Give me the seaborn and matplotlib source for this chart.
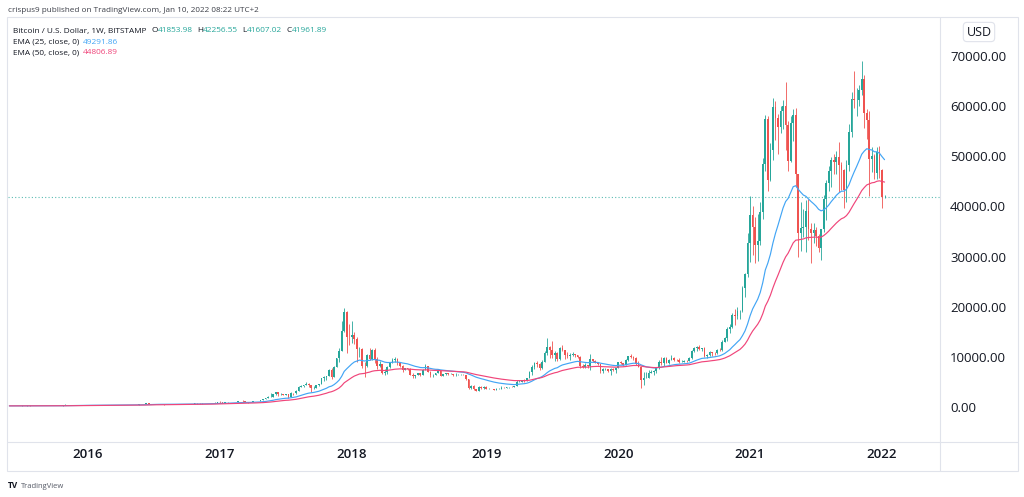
import numpy as np
import pandas as pd
import matplotlib
matplotlib.use("Agg")
import matplotlib.pyplot as plt
import matplotlib.dates as mdates
from matplotlib.lines import Line2D
from matplotlib.patches import Rectangle
import seaborn as sns

# ---------------- data (weekly BTC/USD, Bitstamp) ----------------
first_week = "2015-06-01"
first_open = 230.0

close_2015 = [223, 233, 244, 251, 270, 292, 274, 289, 281, 261, 265, 228, 229, 240, 230, 232, 234, 239, 246, 270,
              285, 325, 382, 331, 325, 357, 390, 435, 443, 422, 430]
high_2015 = [232, 237, 255, 253, 275, 315, 294, 310, 300, 285, 272, 268, 235, 245, 245, 234, 238, 240, 250, 272,
             295, 335, 500, 390, 340, 375, 400, 465, 465, 460, 440]
low_2015 = [220, 222, 230, 240, 250, 255, 270, 272, 275, 258, 256, 162, 198, 225, 227, 225, 226, 234, 236, 242,
            266, 280, 315, 300, 310, 320, 350, 385, 430, 410, 420]

close_2016 = [448, 385, 390, 378, 375, 400, 438, 432, 410, 415, 410, 417, 420, 420, 428, 460, 455, 458, 457, 443,
              525, 577, 665, 760, 670, 672, 650, 665, 656, 622, 590, 570, 580, 570, 610, 608, 607, 603, 612, 618,
              640, 655, 700, 705, 700, 740, 735, 765, 770, 790, 890, 1000]
high_2016 = [465, 455, 420, 395, 390, 405, 440, 440, 435, 420, 420, 420, 425, 425, 430, 465, 468, 465, 460, 460,
             535, 590, 690, 780, 770, 680, 680, 680, 680, 660, 630, 600, 590, 585, 615, 630, 612, 610, 615, 620,
             645, 660, 725, 740, 720, 750, 745, 775, 780, 800, 930, 1005]
low_2016 = [425, 365, 370, 365, 365, 370, 400, 400, 400, 405, 405, 410, 410, 415, 420, 425, 445, 440, 445, 435,
            440, 525, 570, 660, 550, 620, 610, 645, 645, 520, 480, 565, 565, 565, 570, 600, 600, 590, 595, 605,
            615, 625, 650, 680, 690, 680, 725, 730, 755, 765, 790, 880]

close_2017 = [905, 820, 920, 915, 1010, 995, 1050, 1170, 1270, 1230, 970, 965, 1080, 1190, 1180, 1250, 1350, 1550,
              1730, 2050, 2050, 2540, 2960, 2500, 2560, 2420, 2500, 1930, 2750, 2730, 3230, 4060, 4090, 4340, 4600,
              4310, 3690, 3780, 4370, 4600, 5700, 6000, 6130, 7360, 5950, 8000, 9700, 11250, 15200, 19000, 13900,
              13880]
high_2017 = [1150, 910, 930, 925, 1040, 1070, 1060, 1210, 1290, 1330, 1260, 1060, 1090, 1210, 1210, 1260, 1360, 1620,
             1800, 2100, 2760, 2560, 3000, 2980, 2770, 2600, 2650, 2550, 2900, 2800, 3300, 4180, 4480, 4400, 4970,
             4700, 4350, 4110, 4400, 4650, 5850, 6200, 6200, 7600, 7800, 8200, 9800, 11800, 17200, 19666, 19100,
             16500]
low_2017 = [800, 750, 815, 880, 910, 940, 990, 1050, 1170, 1000, 940, 890, 960, 1060, 1160, 1170, 1240, 1350,
            1550, 1720, 1950, 2050, 2480, 2100, 2470, 2300, 2400, 1840, 1920, 2450, 2650, 3200, 3950, 3930, 4300,
            4000, 2970, 3500, 3750, 4200, 4550, 5100, 5400, 6100, 5500, 5900, 7900, 9000, 11200, 15000, 10800,
            12300]

close_2018 = [14400, 13600, 11500, 11500, 8200, 8100, 10400, 9600, 11400, 9600, 8200, 8500, 6850, 6900, 8000, 8900,
              9400, 9650, 8700, 8200, 7350, 7700, 7500, 6400, 6100, 6380, 6750, 6350, 7400, 8200, 7000, 6300, 6400,
              6700, 7300, 6250, 6500, 6700, 6600, 6600, 6300, 6400, 6400, 6400, 6350, 5600, 3800, 4100, 3500, 3250,
              3950, 3850, 4040]
high_2018 = [17200, 15000, 14000, 12000, 11700, 9000, 10600, 11800, 11600, 11700, 9900, 9200, 8600, 7500, 8200, 9000,
             9800, 9990, 9700, 8900, 8400, 7800, 7800, 7700, 6800, 6450, 6800, 6800, 7600, 8500, 8250, 7100, 6600,
             6800, 7400, 7400, 6600, 6800, 6800, 6700, 6650, 6800, 6500, 6550, 6550, 6400, 5650, 4400, 4300, 3600,
             4200, 4200, 4100]
low_2018 = [12800, 12500, 9000, 10000, 7700, 6000, 8000, 9300, 9300, 8700, 7650, 8000, 6600, 6450, 6600, 7800,
            8700, 9050, 8300, 7900, 7050, 7350, 7400, 6300, 5800, 5800, 6300, 6150, 6300, 7350, 6900, 6000, 5900,
            6300, 6700, 6100, 6150, 6300, 6400, 6500, 6150, 6250, 6350, 6300, 6300, 5300, 3500, 3500, 3300, 3200,
            3200, 3600, 3600]

close_2019 = [3550, 3600, 3550, 3420, 3650, 3650, 3850, 3820, 3900, 4000, 3980, 4100, 5050, 5050, 5300, 5200, 5800,
              7000, 8000, 8700, 8550, 7800, 8950, 10700, 11900, 11450, 10300, 10800, 9500, 11800, 11300, 10300,
              10150, 10350, 10500, 10300, 10050, 8100, 7900, 8300, 8250, 9550, 9200, 8800, 8500, 7100, 7500, 7500,
              7100, 7500, 7400, 7760]
high_2019 = [4100, 3700, 3650, 3550, 3700, 3700, 4200, 3900, 3950, 4020, 4100, 4150, 5350, 5450, 5350, 5650, 5850,
             7100, 8400, 8950, 9100, 8800, 9350, 11200, 13800, 12100, 13200, 11100, 10900, 12000, 12300, 11450,
             10900, 10700, 10900, 10600, 10400, 10100, 8500, 8800, 8400, 10500, 9600, 9450, 8850, 8550, 7850, 7800,
             7650, 7700, 7700, 7800]
low_2019 = [3500, 3500, 3500, 3350, 3380, 3550, 3650, 3700, 3700, 3800, 3900, 3900, 4100, 4900, 4950, 5000, 5150,
            5700, 6450, 7500, 8000, 7450, 7500, 8950, 10400, 9700, 9800, 9100, 9200, 9400, 11100, 9500, 9800, 9350,
            10100, 9900, 9850, 7750, 7700, 7800, 7850, 7300, 8900, 8700, 8400, 6800, 6850, 7300, 7050, 6400, 7150,
            6850]

close_2020 = [8900, 8700, 8350, 9350, 10100, 9900, 9700, 8550, 8050, 5350, 5800, 5880, 6800, 6900, 7120, 7700, 8900,
              8750, 9680, 8720, 9450, 9750, 9450, 9300, 9000, 9070, 9250, 9180, 9700, 11100, 11680, 11900, 11650,
              11700, 10250, 10330, 10950, 10780, 10680, 11380, 11370, 13030, 13800, 15480, 15960, 18400, 18180,
              19150, 19150, 23800, 26480, 32800]
high_2020 = [9000, 9200, 8800, 9600, 10150, 10500, 10200, 9950, 9200, 8150, 6900, 6950, 7300, 7450, 7300, 7800, 9450,
             10000, 9900, 9900, 9600, 10400, 9950, 9600, 9800, 9300, 9450, 9300, 9950, 11400, 11900, 12100, 12450,
             11800, 12050, 10550, 11150, 11000, 10950, 11500, 11700, 13300, 14000, 15950, 16500, 18800, 19450,
             19900, 19400, 24200, 26800, 34800]
low_2020 = [7700, 8550, 8250, 8300, 9200, 9700, 9300, 8450, 8000, 3850, 4400, 5700, 5850, 6700, 6450, 6800, 7600,
            8400, 8150, 8700, 8600, 9300, 9200, 9150, 8850, 8950, 9050, 9050, 9150, 9650, 10900, 11200, 11300,
            11150, 9900, 9850, 10200, 10150, 10400, 10550, 11200, 11250, 12900, 13200, 14800, 15800, 16300, 17600,
            17600, 19000, 22000, 26000]

close_2021 = [38200, 35800, 32300, 33100, 38900, 48500, 57500, 45200, 51200, 59900, 57700, 55800, 59000, 60100,
              56200, 49100, 56600, 58200, 46400, 34700, 35700, 35800, 39000, 35500, 34700, 35300, 34200, 31800,
              35400, 41500, 44600, 47000, 49300, 48800, 49900, 48300, 47300, 43200, 48200, 54900, 61500, 61300,
              61300, 63300, 65500, 58600, 57300, 49400, 50100, 46700, 50800, 47200]
high_2021 = [42000, 40100, 37800, 38500, 40900, 49700, 58300, 58000, 52600, 61700, 61000, 58500, 60000, 61200,
             64900, 57000, 58000, 59500, 59600, 46500, 40900, 39400, 41300, 41400, 36700, 36600, 35900, 34600,
             35500, 42300, 45300, 48100, 49800, 50500, 51000, 52900, 48800, 47400, 49300, 56500, 62900, 67000,
             63700, 64200, 69000, 66300, 59500, 59100, 51900, 50500, 51900, 52100]
low_2021 = [29000, 30400, 28800, 29200, 32300, 37400, 47000, 43000, 45000, 49300, 53300, 50400, 54700, 55500,
            51300, 47000, 48800, 53000, 43800, 30000, 31200, 34000, 31000, 33300, 28800, 32700, 32100, 31000,
            29300, 35000, 37300, 43000, 43900, 46400, 46500, 42800, 43200, 39600, 40800, 47000, 53900, 59700,
            58000, 60000, 62300, 55600, 53500, 42000, 46800, 45500, 45500, 45700]

close_2022 = [41853.98, 41961.89]
high_2022 = [47500, 42256.55]
low_2022 = [39700, 41607.02]

price_ticks = [0, 10000, 20000, 30000, 40000, 50000, 60000, 70000]
year_labels = ["2016", "2017", "2018", "2019", "2020", "2021", "2022"]

header_text = "crispus9 published on TradingView.com, Jan 10, 2022 08:22 UTC+2"
symbol_text = "Bitcoin / U.S. Dollar, 1W, BITSTAMP"
ema25_label, ema25_value = "EMA (25, close, 0)", "49291.86"
ema50_label, ema50_value = "EMA (50, close, 0)", "44806.89"

# ---------------- styles ----------------
UP = "#26a69a"
DOWN = "#ef5350"
EMA25_C = "#42a5f5"
EMA50_C = "#f0457a"
TXT = "#131722"
FRAME = "#e0e3eb"
FONT = ["Open Sans", "DejaVu Sans"]

sns.set_theme(style="white")
plt.rcParams["font.family"] = FONT

close = np.array(close_2015 + close_2016 + close_2017 + close_2018 + close_2019 + close_2020 + close_2021 + close_2022, float)
high = np.array(high_2015 + high_2016 + high_2017 + high_2018 + high_2019 + high_2020 + high_2021 + high_2022, float)
low = np.array(low_2015 + low_2016 + low_2017 + low_2018 + low_2019 + low_2020 + low_2021 + low_2022, float)
opens = np.concatenate([[first_open], close[:-1]])
high = np.maximum(high, np.maximum(opens, close))
low = np.minimum(low, np.minimum(opens, close))
dates = pd.date_range(first_week, periods=len(close), freq="7D")

df = pd.DataFrame({"date": dates, "open": opens, "high": high, "low": low, "close": close})
df["ema25"] = df["close"].ewm(span=25, adjust=False).mean()
df["ema50"] = df["close"].ewm(span=50, adjust=False).mean()
df["x"] = mdates.date2num(df["date"])

W, H = 1024, 497
def fx(px):
    return px / W
def fy(py):
    return 1 - py / H

fig = plt.figure(figsize=(W / 100, H / 100), dpi=100)
fig.patch.set_facecolor("white")
ax = fig.add_axes([fx(8), fy(442), (940 - 8) / W, (442 - 17) / H])
ax.set_facecolor("white")
for s in ax.spines.values():
    s.set_visible(False)

colors = np.where(df["close"] >= df["open"], UP, DOWN)
ax.vlines(df["x"], df["low"], df["high"], colors=colors, linewidth=0.6, zorder=2)
ax.bar(df["x"], df["close"] - df["open"], bottom=df["open"], width=4.8, color=colors,
       linewidth=0, zorder=3)

sns.lineplot(data=df, x="x", y="ema25", ax=ax, color=EMA25_C, linewidth=0.85, estimator=None, zorder=4)
sns.lineplot(data=df, x="x", y="ema50", ax=ax, color=EMA50_C, linewidth=0.85, estimator=None, zorder=4)

ax.axhline(df["close"].iloc[-1], color=UP, linestyle=(0, (1, 2)), linewidth=0.8, alpha=0.75, zorder=1)

# x-axis: first bar of each year
firsts = df.groupby(df["date"].dt.year)["x"].first()
tick_x = [firsts[int(y)] for y in year_labels]
ppd = (882 - 88) / (tick_x[-1] - tick_x[0])
ax.set_xlim(tick_x[0] - (88 - 8) / ppd, tick_x[-1] + (940 - 882) / ppd)
ax.set_xticks(tick_x)
ax.set_xticklabels(year_labels, fontsize=9.5, color=TXT, fontweight="semibold")
ax.tick_params(axis="x", length=0, pad=4.5)

# y-axis on the right
ppv = (407 - 56) / 70000.0
ax.set_ylim(-(442 - 407) / ppv, (407 - 17) / ppv)
ax.yaxis.tick_right()
ax.set_yticks(price_ticks)
ax.set_yticklabels([f"{v:.2f}" for v in price_ticks], fontsize=9.5, color=TXT)
ax.tick_params(axis="y", length=0, pad=7.2)
ax.set_xlabel("")
ax.set_ylabel("")
ax.grid(False)

# frame & separators
fig.add_artist(Rectangle((fx(7), fy(471)), (1018 - 7) / W, (471 - 17) / H, transform=fig.transFigure,
                         fill=False, edgecolor=FRAME, linewidth=0.8))
fig.add_artist(Line2D([fx(940), fx(940)], [fy(17), fy(471)], transform=fig.transFigure, color=FRAME, linewidth=0.8))
fig.add_artist(Line2D([fx(7), fx(1018)], [fy(442), fy(442)], transform=fig.transFigure, color=FRAME, linewidth=0.8))

# USD badge
fig.text(fx(979), fy(32), "USD", ha="center", va="center", fontsize=9, color=TXT,
         bbox=dict(boxstyle="round,pad=0.25,rounding_size=0.3", fc="white", ec=FRAME, lw=0.8))

# header
fig.text(fx(8), fy(11), header_text, ha="left", va="center", fontsize=5.9, color="#3c3f48")

def chain(parts, x, y, size=5.95):
    t = fig.text(fx(x), fy(y), parts[0][0], ha="left", va="center", fontsize=size, color=parts[0][1])
    for s, c, gap in parts[1:]:
        t = ax.annotate(s, xy=(1, 0), xycoords=t, xytext=(gap, 0), textcoords="offset points",
                        ha="left", va="bottom", fontsize=size, color=c, annotation_clip=False)
    return t

last = df.iloc[-1]
chain([(symbol_text, TXT),
       ("O", TXT, 3.4), (f"{last['open']:.2f}", UP, 0),
       ("H", TXT, 3.2), (f"{last['high']:.2f}", UP, 0),
       ("L", TXT, 3.2), (f"{last['low']:.2f}", UP, 0),
       ("C", TXT, 3.2), (f"{last['close']:.2f}", UP, 0)], 13, 31)
chain([(ema25_label, TXT), (ema25_value, EMA25_C, 2.6)], 13, 42)
chain([(ema50_label, TXT), (ema50_value, EMA50_C, 2.6)], 13, 53)

# TradingView footer
t = fig.text(fx(8), fy(486), "TV", ha="left", va="center", fontsize=6, color=TXT, fontweight="bold")
ax.annotate("TradingView", xy=(1, 0), xycoords=t, xytext=(2, 0), textcoords="offset points",
            ha="left", va="bottom", fontsize=5.5, color="#555a66", annotation_clip=False)

fig.savefig("out.png", dpi=100, facecolor="white")
